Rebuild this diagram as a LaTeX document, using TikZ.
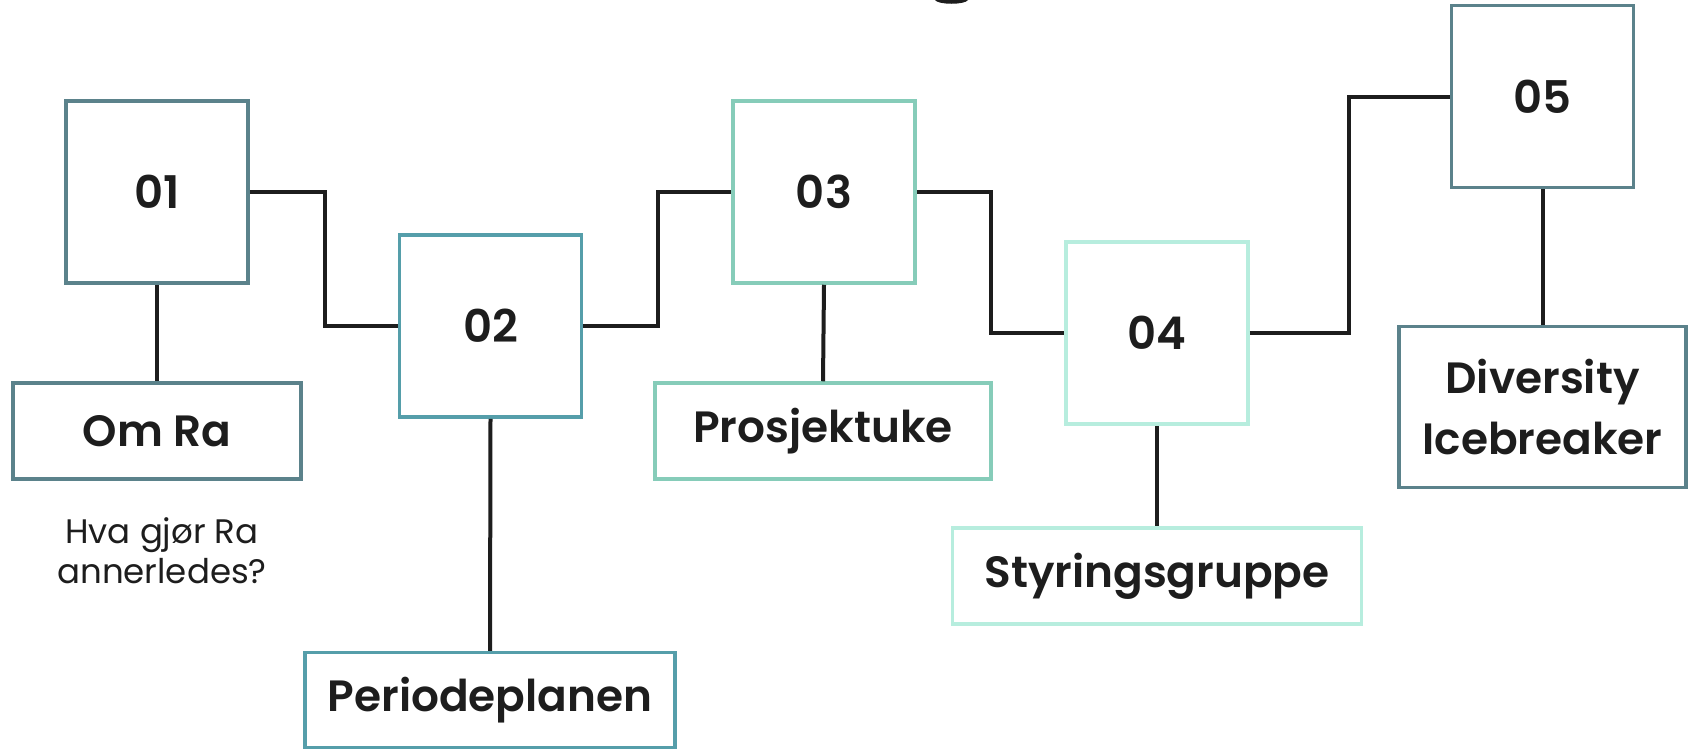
\documentclass[tikz,border=0pt]{standalone}
\usepackage{fontspec}
\setmainfont{Poppins}[BoldFont={Poppins SemiBold}]
\definecolor{slate}{HTML}{5B828B}
\definecolor{teal}{HTML}{559EAA}
\definecolor{mint}{HTML}{86CCB9}
\definecolor{pale}{HTML}{B7EDDE}
\definecolor{ink}{HTML}{1D1D1D}
\tikzset{
  numbox/.style={draw=#1, line width=3.5pt, minimum width=182pt, minimum height=182pt, inner sep=0pt, font=\fontsize{45}{50}\selectfont\bfseries, text=ink},
  labbox/.style={draw=#1, line width=3.5pt, inner sep=0pt, font=\fontsize{43.8}{61}\selectfont\bfseries, text=ink, align=center},
  link/.style={draw=ink, line width=4pt}
}
\begin{document}
\begin{tikzpicture}[x=1pt,y=-1pt]
\useasboundingbox (0,0) rectangle (1692,750);
\fill[white] (0,0) rectangle (1692,750);
% sliver of cut-off title glyph
\fill[ink] (935,0) .. controls (938,5) and (965,5) .. (968,0) -- cycle;

\node[numbox=slate] (n1) at (157,192) {01};
\node[numbox=teal] (n2) at (490.5,326) {02};
\node[numbox=mint] (n3) at (824,192) {03};
\node[numbox=pale] (n4) at (1157,333) {04};
\node[numbox=slate] (n5) at (1542.5,96.5) {05};

\node[labbox=slate, minimum width=288pt, minimum height=96pt] (l1) at (157,431) {Om Ra};
\node[labbox=teal, minimum width=370pt, minimum height=95pt] (l2) at (490,700) {Periodeplanen};
\node[labbox=mint, minimum width=336pt, minimum height=96pt] (l3) at (823,431) {Prosjektuke};
\node[labbox=pale, minimum width=409pt, minimum height=96pt] (l4) at (1157,576) {Styringsgruppe};
\node[labbox=slate, minimum width=287pt, minimum height=161pt] (l5) at (1542.5,407) {Diversity\\Icebreaker};

\node[font=\fontsize{34}{40}\selectfont, text=ink, align=center] (note) at (162,551) {Hva gjør Ra\\annerledes?};

\coordinate (c1) at (324.5,0);
\coordinate (c2) at (657.6,0);
\coordinate (c3) at (990.7,0);
\coordinate (c4) at (1348.6,0);

\draw[link] (n1.east) -- (n1.east -| c1) -- (n2.west -| c1) -- (n2.west);
\draw[link] (n2.east) -- (n2.east -| c2) -- (n3.west -| c2) -- (n3.west);
\draw[link] (n3.east) -- (n3.east -| c3) -- (n4.west -| c3) -- (n4.west);
\draw[link] (n4.east) -- (n4.east -| c4) -- (n5.west -| c4) -- (n5.west);

\draw[link] (n1.south) -- (l1.north);
\draw[link] (n2.south) -- (l2.north);
\draw[link] (n3.south) -- (l3.north);
\draw[link] (n4.south) -- (l4.north);
\draw[link] (n5.south) -- (l5.north);
\end{tikzpicture}
\end{document}
